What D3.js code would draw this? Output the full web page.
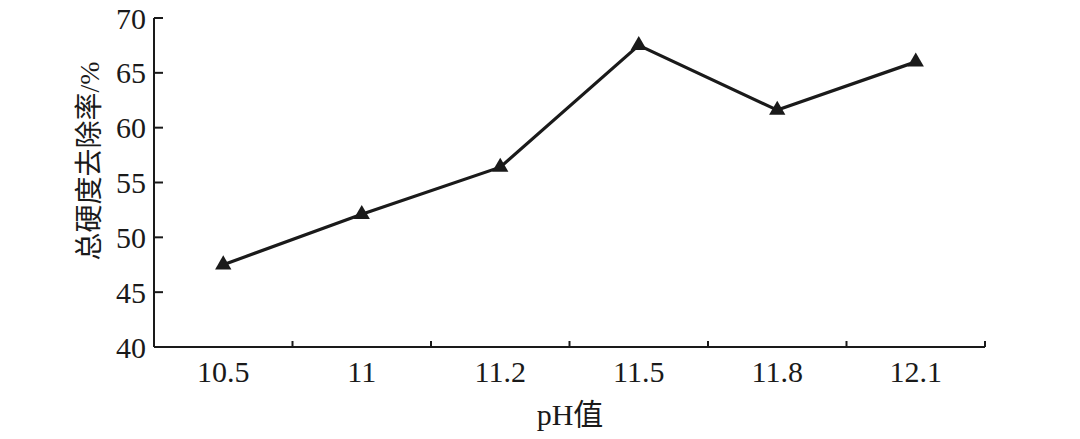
<!DOCTYPE html>
<html>
<head>
<meta charset="utf-8">
<script src="https://cdn.jsdelivr.net/npm/d3@7"></script>
<style>
  html, body { margin: 0; padding: 0; background: #fff; }
  svg { display: block; }
</style>
</head>
<body>
<svg id="chart" width="1080" height="439"></svg>
<script>
const categories = ["10.5", "11", "11.2", "11.5", "11.8", "12.1"];
const removalRate = [47.5, 52.1, 56.4, 67.5, 61.6, 66.0];
const yTicks = [40, 45, 50, 55, 60, 65, 70];
const xTitle = "pH值";
const yTitle = "总硬度去除率/%";

(function () {
const svg = d3.select("#chart");
const pLeft = 154, pRight = 985, pTop = 18, pBottom = 347;
const ink = "#1a1a1a";
const numFont = "'Liberation Serif', 'Times New Roman', serif";
const cjkFont = "'Liberation Serif', 'Noto Sans CJK SC', serif";

const x = d3.scalePoint().domain(categories).range([pLeft, pRight]).padding(0.5);
const xBand = d3.scaleBand().domain(categories).range([pLeft, pRight]);
const y = d3.scaleLinear().domain([40, 70]).range([pBottom, pTop]);

// X axis line and boundary ticks
const gx = svg.append("g");
gx.append("line").attr("x1", pLeft).attr("x2", pRight).attr("y1", pBottom).attr("y2", pBottom)
  .attr("stroke", ink).attr("stroke-width", 2);
const boundaries = categories.slice(1).map(c => xBand(c)).concat([pRight]);
gx.selectAll("line.tk").data(boundaries).enter().append("line")
  .attr("x1", d => d).attr("x2", d => d).attr("y1", pBottom).attr("y2", pBottom - 6)
  .attr("stroke", ink).attr("stroke-width", 2);
gx.selectAll("text").data(categories).enter().append("text")
  .attr("x", d => x(d)).attr("y", 382)
  .attr("text-anchor", "middle")
  .attr("font-family", numFont).attr("font-size", 30).attr("fill", ink)
  .text(d => d);

// Y axis
const gy = svg.append("g");
gy.append("line").attr("x1", pLeft).attr("x2", pLeft).attr("y1", pTop).attr("y2", pBottom)
  .attr("stroke", ink).attr("stroke-width", 2);
gy.selectAll("line.tk").data(yTicks).enter().append("line")
  .attr("x1", pLeft).attr("x2", pLeft + 9).attr("y1", d => y(d)).attr("y2", d => y(d))
  .attr("stroke", ink).attr("stroke-width", 2);
gy.selectAll("text").data(yTicks).enter().append("text")
  .attr("x", 146).attr("y", d => y(d)).attr("dy", "0.35em")
  .attr("text-anchor", "end")
  .attr("font-family", numFont).attr("font-size", 30).attr("fill", ink)
  .text(d => d);

// Titles
svg.append("text")
  .attr("x", 570).attr("y", 425).attr("text-anchor", "middle")
  .attr("font-family", cjkFont).attr("font-size", 30).attr("fill", ink)
  .text(xTitle);
svg.append("text")
  .attr("transform", "translate(99,161) rotate(-90)")
  .attr("text-anchor", "middle")
  .attr("font-family", cjkFont).attr("font-size", 28).attr("fill", ink)
  .text(yTitle);

// Line
const pts = categories.map((c, i) => [x(c), y(removalRate[i])]);
svg.append("path")
  .attr("d", d3.line()(pts))
  .attr("fill", "none").attr("stroke", ink).attr("stroke-width", 3.2)
  .attr("stroke-linejoin", "miter");

// Triangle markers
const tri = d3.symbol().type(d3.symbolTriangle).size(115);
svg.selectAll("path.mk").data(pts).enter().append("path")
  .attr("class", "mk")
  .attr("transform", d => `translate(${d[0]},${d[1]})`)
  .attr("d", tri).attr("fill", ink);
})();
</script>
</body>
</html>
